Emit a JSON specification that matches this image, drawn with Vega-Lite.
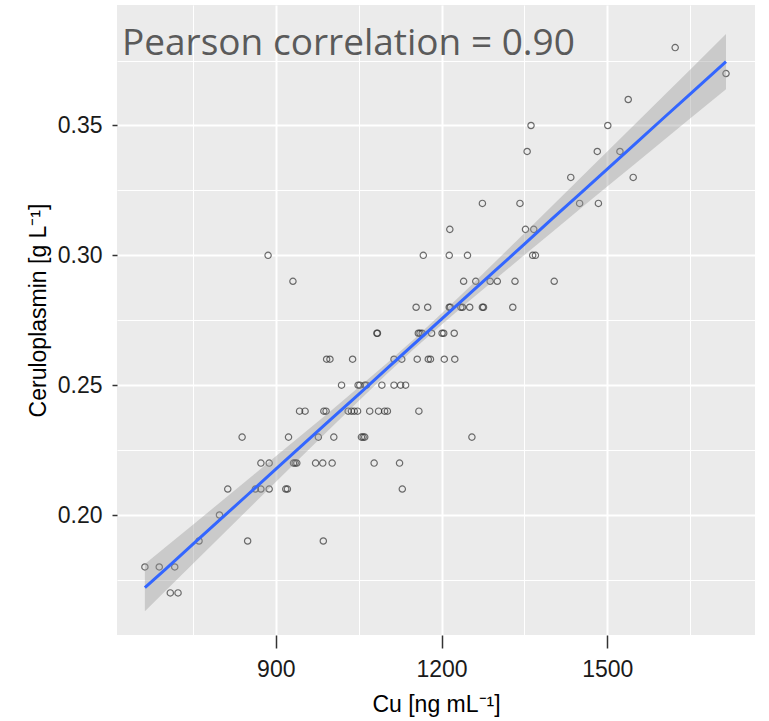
{
  "$schema": "https://vega.github.io/schema/vega-lite/v6.json",
  "width": 638,
  "height": 630,
  "autosize": {"type": "none"},
  "padding": {"left": 117, "top": 5, "right": 14, "bottom": 86},
  "background": "white",
  "config": {"view": {"fill": "#EBEBEB", "stroke": null}},
  "title": {
    "text": "Pearson correlation = 0.90",
    "anchor": "start",
    "frame": "group",
    "orient": "top",
    "offset": 0,
    "baseline": "alphabetic",
    "dy": 87,
    "dx": 5,
    "font": "Open Sans",
    "fontSize": 37,
    "fontWeight": "normal",
    "color": "#5A5A5A"
  },
  "datasets": {
    "points": [
      {"cu": 1623, "cp": 0.38},
      {"cu": 1715, "cp": 0.37},
      {"cu": 1538, "cp": 0.36},
      {"cu": 1362, "cp": 0.35}, {"cu": 1501, "cp": 0.35},
      {"cu": 1355, "cp": 0.34}, {"cu": 1482, "cp": 0.34}, {"cu": 1523, "cp": 0.34},
      {"cu": 1434, "cp": 0.33}, {"cu": 1547, "cp": 0.33},
      {"cu": 1274, "cp": 0.32}, {"cu": 1342, "cp": 0.32}, {"cu": 1450, "cp": 0.32}, {"cu": 1484, "cp": 0.32},
      {"cu": 1215, "cp": 0.31}, {"cu": 1352, "cp": 0.31}, {"cu": 1367, "cp": 0.31},
      {"cu": 886, "cp": 0.30}, {"cu": 1167, "cp": 0.30}, {"cu": 1214, "cp": 0.30}, {"cu": 1247, "cp": 0.30}, {"cu": 1365, "cp": 0.30}, {"cu": 1370, "cp": 0.30},
      {"cu": 931, "cp": 0.29}, {"cu": 1240, "cp": 0.29}, {"cu": 1262, "cp": 0.29}, {"cu": 1288, "cp": 0.29}, {"cu": 1301, "cp": 0.29}, {"cu": 1333, "cp": 0.29}, {"cu": 1404, "cp": 0.29},
      {"cu": 1154, "cp": 0.28}, {"cu": 1175, "cp": 0.28}, {"cu": 1214, "cp": 0.28}, {"cu": 1216, "cp": 0.28}, {"cu": 1235, "cp": 0.28}, {"cu": 1238, "cp": 0.28}, {"cu": 1251, "cp": 0.28}, {"cu": 1274, "cp": 0.28}, {"cu": 1276, "cp": 0.28}, {"cu": 1329, "cp": 0.28},
      {"cu": 1083, "cp": 0.27}, {"cu": 1084, "cp": 0.27}, {"cu": 1158, "cp": 0.27}, {"cu": 1161, "cp": 0.27}, {"cu": 1165, "cp": 0.27}, {"cu": 1182, "cp": 0.27}, {"cu": 1201, "cp": 0.27}, {"cu": 1204, "cp": 0.27}, {"cu": 1223, "cp": 0.27},
      {"cu": 992, "cp": 0.26}, {"cu": 998, "cp": 0.26}, {"cu": 1039, "cp": 0.26}, {"cu": 1114, "cp": 0.26}, {"cu": 1128, "cp": 0.26}, {"cu": 1156, "cp": 0.26}, {"cu": 1176, "cp": 0.26}, {"cu": 1180, "cp": 0.26}, {"cu": 1205, "cp": 0.26}, {"cu": 1224, "cp": 0.26},
      {"cu": 1019, "cp": 0.25}, {"cu": 1049, "cp": 0.25}, {"cu": 1052, "cp": 0.25}, {"cu": 1061, "cp": 0.25}, {"cu": 1064, "cp": 0.25}, {"cu": 1092, "cp": 0.25}, {"cu": 1114, "cp": 0.25}, {"cu": 1126, "cp": 0.25}, {"cu": 1135, "cp": 0.25},
      {"cu": 943, "cp": 0.24}, {"cu": 953, "cp": 0.24}, {"cu": 987, "cp": 0.24}, {"cu": 991, "cp": 0.24}, {"cu": 1031, "cp": 0.24}, {"cu": 1037, "cp": 0.24}, {"cu": 1042, "cp": 0.24}, {"cu": 1048, "cp": 0.24}, {"cu": 1070, "cp": 0.24}, {"cu": 1086, "cp": 0.24}, {"cu": 1097, "cp": 0.24}, {"cu": 1102, "cp": 0.24}, {"cu": 1159, "cp": 0.24},
      {"cu": 839, "cp": 0.23}, {"cu": 923, "cp": 0.23}, {"cu": 977, "cp": 0.23}, {"cu": 1005, "cp": 0.23}, {"cu": 1055, "cp": 0.23}, {"cu": 1058, "cp": 0.23}, {"cu": 1061, "cp": 0.23}, {"cu": 1255, "cp": 0.23},
      {"cu": 873, "cp": 0.22}, {"cu": 888, "cp": 0.22}, {"cu": 932, "cp": 0.22}, {"cu": 935, "cp": 0.22}, {"cu": 938, "cp": 0.22}, {"cu": 972, "cp": 0.22}, {"cu": 985, "cp": 0.22}, {"cu": 1002, "cp": 0.22}, {"cu": 1078, "cp": 0.22}, {"cu": 1124, "cp": 0.22},
      {"cu": 813, "cp": 0.21}, {"cu": 863, "cp": 0.21}, {"cu": 873, "cp": 0.21}, {"cu": 888, "cp": 0.21}, {"cu": 918, "cp": 0.21}, {"cu": 921, "cp": 0.21}, {"cu": 1129, "cp": 0.21},
      {"cu": 798, "cp": 0.20},
      {"cu": 761, "cp": 0.19}, {"cu": 849, "cp": 0.19}, {"cu": 986, "cp": 0.19},
      {"cu": 663, "cp": 0.18}, {"cu": 689, "cp": 0.18}, {"cu": 717, "cp": 0.18},
      {"cu": 709, "cp": 0.17}, {"cu": 723, "cp": 0.17}
    ],
    "band": [
      {"cu": 663, "fit": 0.1720, "lo": 0.1629, "hi": 0.1811},
      {"cu": 700, "fit": 0.1791, "lo": 0.1707, "hi": 0.1876},
      {"cu": 750, "fit": 0.1888, "lo": 0.1812, "hi": 0.1963},
      {"cu": 800, "fit": 0.1984, "lo": 0.1917, "hi": 0.2050},
      {"cu": 850, "fit": 0.2080, "lo": 0.2022, "hi": 0.2138},
      {"cu": 900, "fit": 0.2177, "lo": 0.2127, "hi": 0.2226},
      {"cu": 950, "fit": 0.2273, "lo": 0.2232, "hi": 0.2314},
      {"cu": 1000, "fit": 0.2369, "lo": 0.2336, "hi": 0.2402},
      {"cu": 1050, "fit": 0.2465, "lo": 0.2439, "hi": 0.2492},
      {"cu": 1100, "fit": 0.2562, "lo": 0.2541, "hi": 0.2583},
      {"cu": 1150, "fit": 0.2658, "lo": 0.2639, "hi": 0.2677},
      {"cu": 1200, "fit": 0.2754, "lo": 0.2733, "hi": 0.2776},
      {"cu": 1250, "fit": 0.2851, "lo": 0.2824, "hi": 0.2877},
      {"cu": 1300, "fit": 0.2947, "lo": 0.2913, "hi": 0.2981},
      {"cu": 1350, "fit": 0.3043, "lo": 0.3001, "hi": 0.3085},
      {"cu": 1400, "fit": 0.3140, "lo": 0.3089, "hi": 0.3190},
      {"cu": 1450, "fit": 0.3236, "lo": 0.3177, "hi": 0.3295},
      {"cu": 1500, "fit": 0.3332, "lo": 0.3265, "hi": 0.3400},
      {"cu": 1550, "fit": 0.3428, "lo": 0.3352, "hi": 0.3505},
      {"cu": 1600, "fit": 0.3525, "lo": 0.3439, "hi": 0.3610},
      {"cu": 1650, "fit": 0.3621, "lo": 0.3527, "hi": 0.3715},
      {"cu": 1715, "fit": 0.3746, "lo": 0.3640, "hi": 0.3852}
    ]
  },
  "layer": [
    {
      "data": {"name": "points"},
      "mark": {"type": "point", "shape": "circle", "filled": false, "stroke": "#333333", "strokeWidth": 1.2, "size": 40},
      "encoding": {
        "x": {
          "field": "cu", "type": "quantitative",
          "scale": {"domain": [612.5, 1767.5], "nice": false, "zero": false},
          "axis": {
            "values": [750, 900, 1050, 1200, 1350, 1500, 1650],
            "format": "d",
            "labelExpr": "datum.value % 300 === 0 ? datum.label : ''",
            "domain": false,
            "grid": true,
            "gridColor": "#FFFFFF",
            "gridOpacity": 1,
            "gridWidth": {"condition": {"test": "datum.value % 300 === 0", "value": 2}, "value": 1},
            "tickOpacity": {"condition": {"test": "datum.value % 300 === 0", "value": 1}, "value": 0},
            "tickSize": 13,
            "tickWidth": 1.5,
            "tickColor": "#333333",
            "labelFont": "Liberation Sans",
            "labelFontSize": 23,
            "labelColor": "#1A1A1A",
            "labelPadding": 10,
            "title": "Cu [ng mL⁻¹]",
            "titleFont": "Liberation Sans",
            "titleFontSize": 23,
            "titleFontWeight": "normal",
            "titleColor": "#000000",
            "titlePadding": 12
          }
        },
        "y": {
          "field": "cp", "type": "quantitative",
          "scale": {"domain": [0.1538, 0.3964], "nice": false, "zero": false},
          "axis": {
            "values": [0.175, 0.2, 0.225, 0.25, 0.275, 0.3, 0.325, 0.35, 0.375],
            "format": ".2f",
            "labelExpr": "abs(datum.value * 20 - round(datum.value * 20)) < 0.01 ? datum.label : ''",
            "domain": false,
            "grid": true,
            "gridColor": "#FFFFFF",
            "gridOpacity": 1,
            "gridWidth": {"condition": {"test": "abs(datum.value * 20 - round(datum.value * 20)) < 0.01", "value": 2}, "value": 1},
            "tickOpacity": {"condition": {"test": "abs(datum.value * 20 - round(datum.value * 20)) < 0.01", "value": 1}, "value": 0},
            "tickSize": 5,
            "tickWidth": 1.5,
            "tickColor": "#333333",
            "labelFont": "Liberation Sans",
            "labelFontSize": 23,
            "labelColor": "#1A1A1A",
            "labelPadding": 10,
            "title": "Ceruloplasmin [g L⁻¹]",
            "titleFont": "Liberation Sans",
            "titleFontSize": 23,
            "titleFontWeight": "normal",
            "titleColor": "#000000",
            "titlePadding": 7,
            "titleY": 305
          }
        }
      }
    },
    {
      "data": {"name": "band"},
      "mark": {"type": "area", "color": "#999999", "opacity": 0.4},
      "encoding": {
        "x": {"field": "cu", "type": "quantitative"},
        "y": {"field": "lo", "type": "quantitative"},
        "y2": {"field": "hi"}
      }
    },
    {
      "data": {"name": "band"},
      "mark": {"type": "line", "color": "#3366FF", "strokeWidth": 3},
      "encoding": {
        "x": {"field": "cu", "type": "quantitative"},
        "y": {"field": "fit", "type": "quantitative"}
      }
    }
  ]
}
